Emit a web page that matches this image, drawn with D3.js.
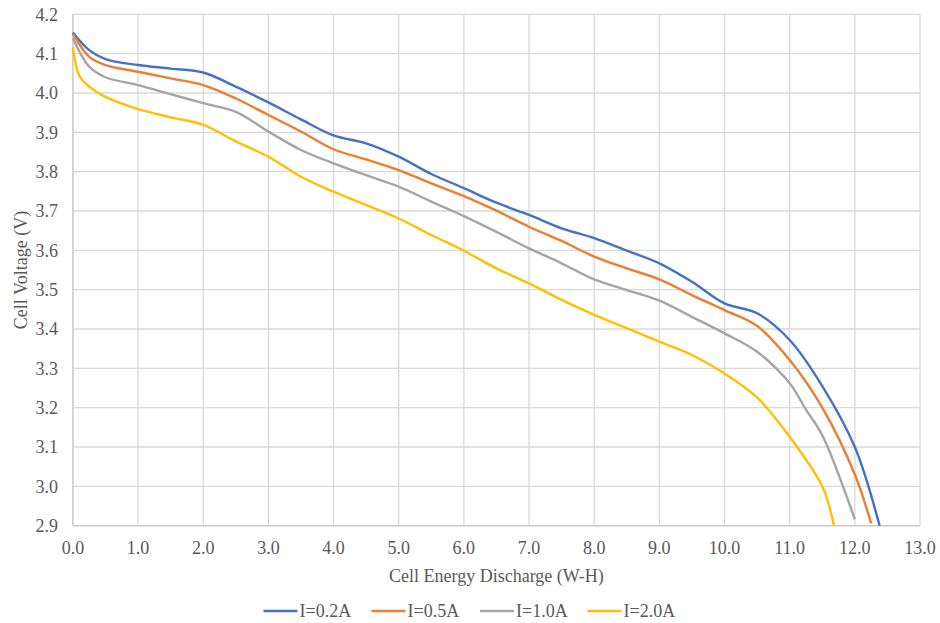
<!DOCTYPE html>
<html>
<head>
<meta charset="utf-8">
<script src="https://cdn.jsdelivr.net/npm/d3@7"></script>
<style>
  body { margin: 0; background: #fff; }
</style>
</head>
<body>
<div id="chart"></div>
<script>
// data (energy W-H, voltage V)
const seriesNames = ["I=0.2A", "I=0.5A", "I=1.0A", "I=2.0A"]
const colors = ["#4472C4", "#ED7D31", "#A5A5A5", "#FFC000"]

const energy02 = [0, 0.25, 0.5, 1, 1.5, 2, 2.5, 3, 3.5, 4, 4.5, 5, 5.5, 6, 6.5, 7, 7.5, 8, 8.5, 9, 9.5, 10, 10.5, 11, 11.5, 12, 12.38]
const volt02   = [4.154, 4.109, 4.086, 4.071, 4.062, 4.052, 4.016, 3.976, 3.933, 3.892, 3.872, 3.838, 3.794, 3.758, 3.721, 3.69, 3.656, 3.631, 3.599, 3.567, 3.52, 3.465, 3.44, 3.372, 3.255, 3.1, 2.9]

const energy05 = [0, 0.25, 0.5, 1, 1.5, 2, 2.5, 3, 3.5, 4, 4.5, 5, 5.5, 6, 6.5, 7, 7.5, 8, 8.5, 9, 9.5, 10, 10.5, 11, 11.5, 12, 12.25]
const volt05   = [4.15, 4.092, 4.071, 4.054, 4.037, 4.02, 3.986, 3.944, 3.902, 3.857, 3.831, 3.804, 3.77, 3.738, 3.701, 3.66, 3.624, 3.584, 3.554, 3.526, 3.486, 3.448, 3.408, 3.321, 3.2, 3.03, 2.906]

const energy10 = [0, 0.25, 0.5, 1, 1.5, 2, 2.5, 3, 3.5, 4, 4.5, 5, 5.5, 6, 6.5, 7, 7.5, 8, 8.5, 9, 9.5, 10, 10.5, 11, 11.25, 11.5, 12]
const volt10   = [4.14, 4.067, 4.04, 4.02, 3.997, 3.974, 3.952, 3.902, 3.855, 3.821, 3.791, 3.762, 3.724, 3.687, 3.647, 3.605, 3.567, 3.526, 3.499, 3.472, 3.431, 3.389, 3.342, 3.262, 3.195, 3.13, 2.916]

const energy20 = [0, 0.1, 0.25, 0.5, 1, 1.5, 2, 2.5, 3, 3.5, 4, 4.5, 5, 5.5, 6, 6.5, 7, 7.5, 8, 8.5, 9, 9.5, 10, 10.5, 11, 11.5, 11.68]
const volt20   = [4.115, 4.043, 4.016, 3.99, 3.959, 3.938, 3.919, 3.877, 3.838, 3.787, 3.749, 3.715, 3.681, 3.639, 3.599, 3.554, 3.516, 3.474, 3.436, 3.402, 3.368, 3.334, 3.287, 3.226, 3.126, 3.0, 2.9]

const xTicks = d3.range(0, 13.01, 1)
const yTicks = d3.range(2.9, 4.201, 0.1)

const allSeries = [
  d3.zip(energy02, volt02),
  d3.zip(energy05, volt05),
  d3.zip(energy10, volt10),
  d3.zip(energy20, volt20)
]

const W = 940, H = 623
const margin = {top: 14.3, left: 72.9}
const width = 920 - margin.left,
      height = 525.7 - margin.top
const fontSize = "18px"

const svg = d3.select("#chart").append("svg")
    .attr("width", W).attr("height", H)
    .style("font-family", "'Liberation Serif', 'Times New Roman', 'DejaVu Serif', serif")

const g = svg.append("g")
    .attr("transform", `translate(${margin.left},${margin.top})`)

const x = d3.scaleLinear().domain([0, 13]).range([0, width])
const y = d3.scaleLinear().domain([2.9, 4.2]).range([height, 0])

// grid
g.selectAll(".vgrid").data(xTicks).join("line")
    .attr("x1", d => x(d)).attr("x2", d => x(d))
    .attr("y1", 0).attr("y2", height)
    .attr("stroke", "#d9d9d9").attr("stroke-width", 1.3)
g.selectAll(".hgrid").data(yTicks).join("line")
    .attr("x1", 0).attr("x2", width)
    .attr("y1", d => y(d)).attr("y2", d => y(d))
    .attr("stroke", "#d9d9d9").attr("stroke-width", 1.3)

// axes lines
g.append("line").attr("x1", 0).attr("x2", 0).attr("y1", 0).attr("y2", height)
    .attr("stroke", "#cfcfcf").attr("stroke-width", 1.5)
g.append("line").attr("x1", 0).attr("x2", width).attr("y1", height).attr("y2", height)
    .attr("stroke", "#cfcfcf").attr("stroke-width", 1.5)

// tick labels
g.selectAll(".ylab").data(yTicks).join("text")
    .attr("x", -15).attr("y", d => y(d))
    .attr("dy", "0.35em")
    .attr("text-anchor", "end")
    .attr("fill", "#595959")
    .style("font-size", fontSize)
    .text(d => d.toFixed(1))
g.selectAll(".xlab").data(xTicks).join("text")
    .attr("x", d => x(d)).attr("y", height + 22)
    .attr("dy", "0.35em")
    .attr("text-anchor", "middle")
    .attr("fill", "#595959")
    .style("font-size", fontSize)
    .text(d => d.toFixed(1))

// axis titles
svg.append("text")
    .attr("x", margin.left + width / 2).attr("y", 576)
    .attr("dy", "0.35em")
    .attr("text-anchor", "middle")
    .attr("fill", "#595959")
    .style("font-size", fontSize)
    .text("Cell Energy Discharge (W-H)")
svg.append("text")
    .attr("transform", `translate(21,${margin.top + height / 2}) rotate(-90)`)
    .attr("dy", "0.35em")
    .attr("text-anchor", "middle")
    .attr("fill", "#595959")
    .style("font-size", fontSize)
    .text("Cell Voltage (V)")

// lines
const line = d3.line()
    .x(d => x(d[0]))
    .y(d => y(d[1]))
    .curve(d3.curveCatmullRom.alpha(0.5))

g.selectAll(".series").data(allSeries).join("path")
    .attr("fill", "none")
    .attr("stroke", (d, i) => colors[i])
    .attr("stroke-width", 2.4)
    .attr("stroke-linejoin", "round")
    .attr("d", line)

// legend
const legendX = [263.5, 371.5, 480, 587.5]
const leg = svg.selectAll(".legend").data(seriesNames).join("g")
    .attr("transform", (d, i) => `translate(${legendX[i]},611)`)
leg.append("line")
    .attr("x1", 0).attr("x2", 34).attr("y1", 0).attr("y2", 0)
    .attr("stroke", (d, i) => colors[i]).attr("stroke-width", 2.4)
leg.append("text")
    .attr("x", 36).attr("y", 0).attr("dy", "0.35em")
    .attr("fill", "#595959")
    .style("font-size", fontSize)
    .text(d => d)
</script>
</body>
</html>
